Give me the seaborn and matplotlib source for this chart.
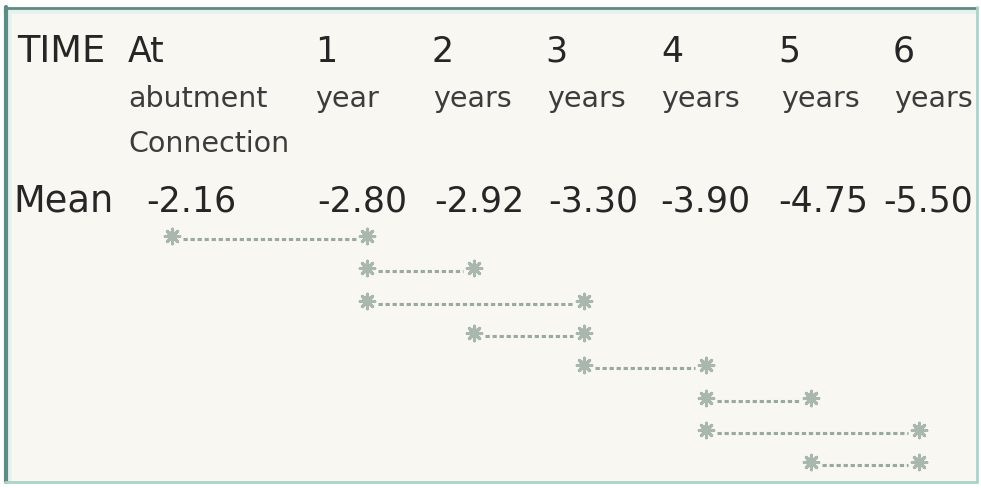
import numpy as np
import pandas as pd
import matplotlib
matplotlib.use("Agg")
import matplotlib.pyplot as plt
import seaborn as sns

# table content
time_top = ["At", "1", "2", "3", "4", "5", "6"]
time_sub = [["abutment", "Connection"], ["year"], ["years"], ["years"],
            ["years"], ["years"], ["years"]]
means = [-2.16, -2.80, -2.92, -3.30, -3.90, -4.75, -5.50]

# significant comparisons between time points (index pairs)
pair_start = [0, 1, 1, 2, 3, 4, 4, 5]
pair_end = [1, 2, 3, 3, 4, 5, 6, 6]

# layout (pixel positions on the 981x489 canvas)
head_left = [128, 315, 432, 545, 661, 778, 893]
sub_left = [128, 315, 433, 547, 661, 781, 894]
val_left = [146, 317, 434, 548, 660, 778, 883]
mark_x = [172, 367, 474, 584, 706, 811, 919]
row_y0, row_gap = 237, 32.3

BG = "#f8f7f2"
TXT = "#262626"
SUB = "#3c3c3c"
MARK = "#a9b7af"
DASH = "#9aa9a1"

sns.set_theme(style="white")
plt.rcParams["font.family"] = ["DejaVu Sans"]

fig = plt.figure(figsize=(9.81, 4.89), dpi=100)
fig.patch.set_facecolor("white")
ax = fig.add_axes([0, 0, 1, 1])
ax.set_xlim(0, 981)
ax.set_ylim(489, 0)
ax.axis("off")

# panel with teal frame
ax.add_patch(plt.Rectangle((5, 8), 972, 475, facecolor=BG, edgecolor="none", zorder=0))
ax.plot([6, 976], [12, 12], color="#e4f3ee", lw=4, zorder=1)
ax.plot([9, 9], [10, 481], color="#e4f3ee", lw=4, zorder=1)
ax.plot([5, 977], [8.5, 8.5], color="#5e8b83", lw=2.0, zorder=2)
ax.plot([5.5, 5.5], [8, 483], color="#5e8b83", lw=3, zorder=2)
ax.plot([5, 977], [482.5, 482.5], color="#a9d4ca", lw=2, zorder=2)
ax.plot([976.5, 976.5], [8, 483], color="#a9d4ca", lw=2, zorder=2)

# header row
ax.text(17, 62, "TIME", fontsize=26.5, color=TXT, va="baseline", ha="left")
ax.text(13, 212, "Mean", fontsize=26.5, color=TXT, va="baseline", ha="left")
for i, lab in enumerate(time_top):
    ax.text(head_left[i], 62, lab, fontsize=25, color=TXT, va="baseline", ha="left")
    for k, line in enumerate(time_sub[i]):
        ax.text(sub_left[i], 107 + 45 * k, line, fontsize=20.5, color=SUB,
                va="baseline", ha="left")
    ax.text(val_left[i], 212, f"{means[i]:.2f}", fontsize=25, color=TXT,
            va="baseline", ha="left")

# comparison brackets
rows = np.arange(len(pair_start))
pts = pd.DataFrame({
    "x": [mark_x[i] for i in pair_start] + [mark_x[j] for j in pair_end],
    "y": list(row_y0 + rows * row_gap) * 2,
})
segs = pd.DataFrame({
    "x": [mark_x[i] + 11 for i in pair_start] + [mark_x[j] - 11 for j in pair_end],
    "y": list(row_y0 + 3 + rows * row_gap) * 2,
    "row": list(rows) * 2,
})

sns.lineplot(data=segs, x="x", y="y", units="row", estimator=None, ax=ax,
             color=DASH, lw=2.2, dashes=False, zorder=3)
for line in ax.lines[-len(pair_start):]:
    line.set_dashes((1.4, 0.9))

sns.scatterplot(data=pts, x="x", y="y", ax=ax, marker="o", s=50,
                color=MARK, edgecolor="none", zorder=4, legend=False)
sns.scatterplot(data=pts, x="x", y="y", ax=ax, marker=(8, 2, 0), s=110,
                color=MARK, linewidth=2.2, zorder=4, legend=False)

ax.set_xlim(0, 981)
ax.set_ylim(489, 0)
ax.set_xlabel("")
ax.set_ylabel("")

fig.savefig("out.png", dpi=100, facecolor="white")
